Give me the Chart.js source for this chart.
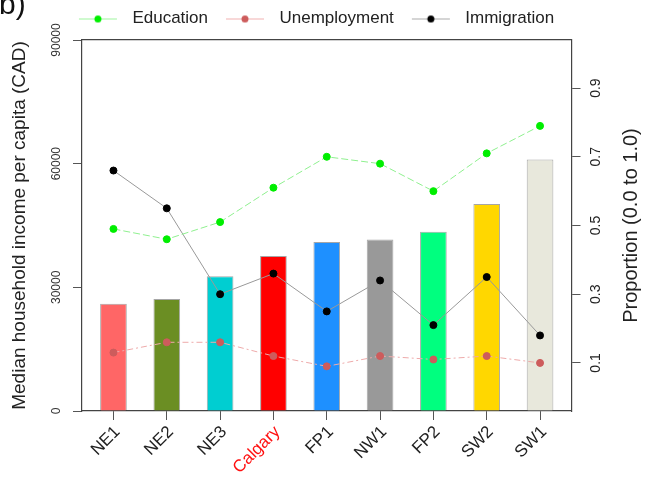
<!DOCTYPE html>
<html>
<head>
<meta charset="utf-8">
<script src="https://cdn.jsdelivr.net/npm/chart.js@4.4.1/dist/chart.umd.min.js"></script>
<style>
  body { margin: 0; background: #fff; }
  #wrap { position: relative; width: 652px; height: 477px; overflow: hidden; }
  #panel { position: absolute; left: -1px; top: -11px; font: 30px "Liberation Sans", Arial, sans-serif; line-height: 30px; color: #111; }
</style>
</head>
<body>
<div id="wrap">
  <canvas id="chart" width="652" height="477"></canvas>
  <div id="panel">b)</div>
</div>
<script>
// ---- data ----
var categories   = ['NE1', 'NE2', 'NE3', 'Calgary', 'FP1', 'NW1', 'FP2', 'SW2', 'SW1'];
var highlight    = 'Calgary';
var income       = [26000, 27200, 32700, 37600, 41000, 41600, 43500, 50200, 61000];
var education    = [0.49, 0.46, 0.51, 0.61, 0.70, 0.68, 0.60, 0.71, 0.79];
var unemployment = [0.13, 0.16, 0.16, 0.12, 0.09, 0.12, 0.11, 0.12, 0.10];
var immigration  = [0.66, 0.55, 0.30, 0.36, 0.25, 0.34, 0.21, 0.35, 0.18];
var incomeTicks  = [0, 30000, 60000, 90000];
var propTicks    = [0.1, 0.3, 0.5, 0.7, 0.9];
var barColors    = ['#ff6666', '#6b8e23', '#00ced1', '#ff0000', '#1e90ff', '#999999', '#00ff7f', '#ffd700', '#e8e8dc'];

var FONT = '"Liberation Sans", Arial, sans-serif';

function xy(values) {
  return values.map(function(v, i) { return { x: i, y: v }; });
}

// small line+dot swatch used as the legend symbol
function legendIcon(lineColor, dotColor) {
  var c = document.createElement('canvas');
  c.width = 55; c.height = 10;
  var g = c.getContext('2d');
  g.strokeStyle = lineColor; g.lineWidth = 1;
  g.beginPath(); g.moveTo(10, 5.5); g.lineTo(48, 5.5); g.stroke();
  g.fillStyle = dotColor;
  g.beginPath(); g.arc(29, 5.5, 3.5, 0, Math.PI * 2); g.fill();
  return c;
}

var icons = {
  Education:    legendIcon('#9ff59f', '#00ee00'),
  Unemployment: legendIcon('#f0b0b0', '#cd5c5c'),
  Immigration:  legendIcon('#aaaaaa', '#000000')
};

// right axis title reads bottom-to-top like the left one
var rightTitle = {
  id: 'rightTitle',
  afterDraw: function(chart) {
    var a = chart.chartArea, ctx = chart.ctx;
    ctx.save();
    ctx.translate(631, (a.top + a.bottom) / 2);
    ctx.rotate(-Math.PI / 2);
    ctx.font = '20px ' + FONT;
    ctx.fillStyle = '#222';
    ctx.textAlign = 'center';
    ctx.textBaseline = 'middle';
    ctx.fillText('Proportion (0.0 to 1.0)', 0, 0);
    ctx.restore();
  }
};

var axisGrid = { drawOnChartArea: false, tickLength: 9, color: '#555', lineWidth: 1, offset: false };
var axisBorder = { color: '#444', width: 1.2 };

new Chart(document.getElementById('chart'), {
  type: 'bar',
  data: {
    datasets: [
      { type: 'line', label: 'Education', data: xy(education), yAxisID: 'yR', order: 1,
        borderColor: '#8ff08f', borderWidth: 1, borderDash: [7, 3],
        pointBackgroundColor: '#00ee00', pointBorderColor: '#00ee00', pointRadius: 3.5, tension: 0 },
      { type: 'line', label: 'Unemployment', data: xy(unemployment), yAxisID: 'yR', order: 2,
        borderColor: '#eeaaaa', borderWidth: 1, borderDash: [6, 3, 2, 3],
        pointBackgroundColor: '#cd5c5c', pointBorderColor: '#cd5c5c', pointRadius: 3.5, tension: 0 },
      { type: 'line', label: 'Immigration', data: xy(immigration), yAxisID: 'yR', order: 3,
        borderColor: '#999999', borderWidth: 1,
        pointBackgroundColor: '#000', pointBorderColor: '#000', pointRadius: 3.5, tension: 0 },
      { type: 'bar', label: 'Income', data: xy(income), yAxisID: 'y', order: 10,
        backgroundColor: barColors, borderColor: 'rgba(0,0,0,0.35)', borderWidth: 1,
        barPercentage: 0.5, categoryPercentage: 1.0 }
    ]
  },
  options: {
    responsive: false,
    animation: false,
    layout: { padding: { top: 2, right: 29, left: 0, bottom: 0 } },
    plugins: {
      tooltip: { enabled: false },
      legend: {
        position: 'top',
        labels: {
          usePointStyle: true,
          pointStyleWidth: 55,
          padding: 8,
          color: '#222',
          font: { family: FONT, size: 17 },
          generateLabels: function(chart) {
            return Chart.defaults.plugins.legend.labels.generateLabels(chart)
              .filter(function(item) { return icons[item.text]; })
              .map(function(item) { item.pointStyle = icons[item.text]; return item; });
          }
        }
      }
    },
    scales: {
      x: {
        type: 'linear', position: 'bottom', min: -0.59, max: 8.59, offset: false,
        afterBuildTicks: function(s) { s.ticks = categories.map(function(c, i) { return { value: i }; }); },
        afterFit: function(s) { s.height = 66; },
        grid: axisGrid, border: axisBorder,
        ticks: {
          minRotation: 45, maxRotation: 45, padding: 2, labelOffset: 4,
          font: { family: FONT, size: 17 },
          color: function(c) { return categories[c.tick.value] === highlight ? '#ff1010' : '#222'; },
          callback: function(v) { return categories[v]; }
        }
      },
      xTop: {
        type: 'linear', position: 'top', min: 0, max: 1, offset: false,
        afterFit: function(s) { s.height = 3; },
        grid: { drawOnChartArea: false, drawTicks: false },
        border: axisBorder,
        ticks: { display: false }
      },
      y: {
        type: 'linear', position: 'left', min: 0, max: 90000,
        afterBuildTicks: function(s) { s.ticks = incomeTicks.map(function(v) { return { value: v }; }); },
        afterFit: function(s) { s.width = 82; },
        grid: axisGrid, border: axisBorder,
        ticks: {
          minRotation: 90, maxRotation: 90, crossAlign: 'center', padding: 0,
          font: { family: FONT, size: 12 }, color: '#333',
          callback: function(v) { return String(v); }
        },
        title: {
          display: true, text: 'Median household income per capita (CAD)',
          font: { family: FONT, size: 19 }, color: '#222', padding: { top: 8, bottom: 0 }
        }
      },
      yR: {
        type: 'linear', position: 'right', min: -0.04, max: 1.04,
        afterBuildTicks: function(s) { s.ticks = propTicks.map(function(v) { return { value: v }; }); },
        afterFit: function(s) { s.width = 51.5; },
        grid: axisGrid, border: axisBorder,
        ticks: {
          minRotation: 90, maxRotation: 90, crossAlign: 'center', padding: 6,
          font: { family: FONT, size: 14 }, color: '#222',
          callback: function(v) { return v.toFixed(1); }
        }
      }
    }
  },
  plugins: [rightTitle]
});
</script>
</body>
</html>
